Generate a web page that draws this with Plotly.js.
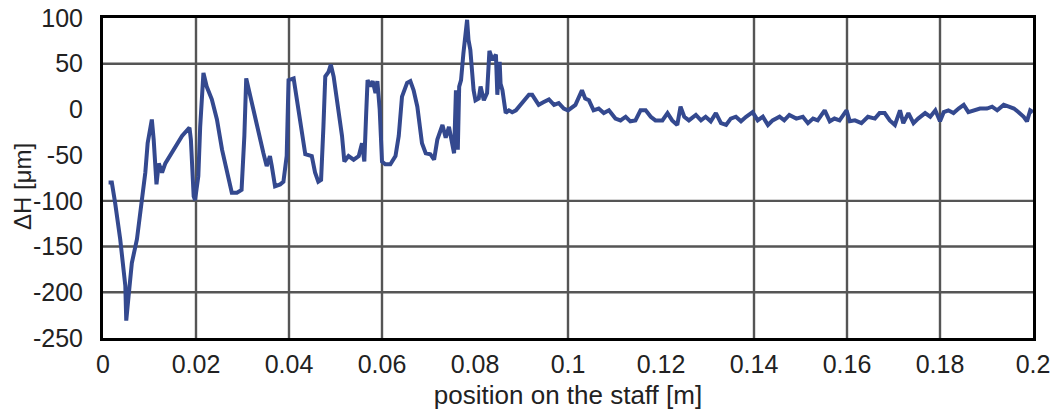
<!DOCTYPE html>
<html>
<head>
<meta charset="utf-8">
<script src="https://cdn.plot.ly/plotly-3.0.1.min.js"></script>
<style>html,body{margin:0;padding:0;background:#fff;}#chart{width:1058px;height:410px;}</style>
</head>
<body>
<div id="chart"></div>
<script>
// position on the staff [m]
const positionM = [
0.0012,0.0019,0.0026,0.0037,0.0048,0.0050,0.0055,0.0062,0.0073,0.0084,0.0091,0.0096,0.0105,0.0109,0.0115,0.0120,0.0127,0.0134,0.0152,0.0170,0.0186,0.0189,0.0195,0.0198,0.0205,0.0209,0.0216,0.0223,0.0234,0.0245,0.0256,0.0266,0.0277,0.0288,0.0298,0.0304,0.0308,0.0317,0.0327,0.0338,0.0345,0.0352,0.0359,0.0363,0.0370,0.0381,0.0388,0.0395,0.0399,0.0410,0.0420,0.0427,0.0435,0.0449,0.0456,0.0463,0.0469,0.0474,0.0478,0.0485,0.0490,0.0496,0.0507,0.0514,0.0519,0.0528,0.0539,0.0550,0.0557,0.0562,0.0566,0.0569,0.0575,0.0580,0.0586,0.0590,0.0595,0.0600,0.0607,0.0618,0.0629,0.0636,0.0643,0.0654,0.0661,0.0668,0.0676,0.0686,0.0694,0.0704,0.0712,0.0719,0.0730,0.0737,0.0744,0.0752,0.0755,0.0759,0.0763,0.0766,0.0770,0.0775,0.0781,0.0783,0.0786,0.0790,0.0797,0.0801,0.0808,0.0812,0.0819,0.0826,0.0831,0.0838,0.0845,0.0848,0.0853,0.0855,0.0859,0.0866,0.0873,0.0880,0.0888,0.0895,0.0905,0.0916,0.0923,0.0930,0.0937,0.0948,0.0959,0.0970,0.0980,0.0991,0.1000,0.1016,0.1030,0.1037,0.1045,0.1055,0.1066,0.1077,0.1088,0.1102,0.1113,0.1124,0.1134,0.1145,0.1156,0.1167,0.1178,0.1188,0.1203,0.1214,0.1224,0.1235,0.1242,0.1250,0.1260,0.1275,0.1286,0.1296,0.1307,0.1318,0.1329,0.1340,0.1350,0.1361,0.1372,0.1383,0.1397,0.1408,0.1419,0.1430,0.1440,0.1455,0.1465,0.1476,0.1491,0.1505,0.1516,0.1527,0.1537,0.1552,0.1563,0.1573,0.1584,0.1599,0.1606,0.1617,0.1631,0.1645,0.1660,0.1670,0.1681,0.1692,0.1703,0.1714,0.1721,0.1732,0.1743,0.1753,0.1768,0.1779,0.1790,0.1800,0.1808,0.1818,0.1829,0.1840,0.1851,0.1861,0.1872,0.1886,0.1901,0.1912,0.1923,0.1937,0.1948,0.1959,0.1969,0.1980,0.1987,0.1994,0.2000
];
// ΔH [μm]
const deltaH = [
-80,-80,-102,-142,-193,-231,-204,-168,-142,-102,-69,-37,-11,-33,-82,-59,-69,-59,-44,-29,-20,-33,-95,-99,-73,-19,40,25,11,-11,-44,-66,-91,-91,-88,-29,34,14,-8,-37,-48,-62,-51,-62,-84,-82,-79,-51,32,34,0,-26,-49,-51,-69,-79,-77,-19,36,41,49,36,0,-29,-57,-51,-55,-51,-37,-57,-4,32,25,31,18,31,0,-57,-60,-60,-51,-29,14,29,31,21,3,-37,-48,-49,-55,-33,-17,-31,-19,-40,-48,21,-44,25,32,61,94,98,76,65,21,10,12,25,10,18,64,54,60,16,52,28,21,-4,-1,-3,-1,3,10,16,16,10,5,8,11,5,7,1,-1,5,21,12,10,-1,1,-4,-1,-10,-12,-8,-13,-12,-1,-1,-8,-12,-12,-4,-12,-17,3,-8,-12,-6,-12,-8,-13,-4,-15,-17,-10,-8,-13,-8,-3,-12,-8,-17,-12,-8,-12,-6,-10,-8,-15,-10,-12,-1,-13,-10,-12,-1,-13,-12,-15,-8,-10,-4,-4,-12,-17,-1,-15,-4,-15,-10,-4,-8,-1,-13,-3,-1,-4,1,5,-3,-1,1,1,3,-1,5,3,1,-3,-8,-13,-1,-3
];
const xTickVals = [0,0.02,0.04,0.06,0.08,0.1,0.12,0.14,0.16,0.18,0.2];
const xTickText = ["0","0.02","0.04","0.06","0.08","0.1","0.12","0.14","0.16","0.18","0.2"];
const yTickVals = [100,50,0,-50,-100,-150,-200,-250];
const yTickText = ["100","50","0","-50","-100","-150","-200","-250"];
const xSolidGrid = [0.02,0.04,0.06,0.1,0.14,0.16,0.18];
const ySolidGrid = [50,-100,-150,-200];
const xTitle = 'position on the staff [m]';
const yTitle = 'ΔH [μm]';

const gridShapes = [];
xSolidGrid.forEach(v => gridShapes.push({type:'line',xref:'x',yref:'paper',x0:v,x1:v,y0:0,y1:1,layer:'below',line:{color:'#555',width:2.4}}));
ySolidGrid.forEach(v => gridShapes.push({type:'line',xref:'paper',yref:'y',x0:0,x1:1,y0:v,y1:v,layer:'below',line:{color:'#555',width:2.4}}));

const font = {family:'"Liberation Sans", Arial, sans-serif', size:25, color:'#222'};

Plotly.newPlot('chart', [{
  x: positionM, y: deltaH, type:'scatter', mode:'lines',
  line:{color:'#34498f', width:4}, hoverinfo:'skip'
}], {
  width:1058, height:410,
  margin:{l:103, r:25, t:18, b:72},
  paper_bgcolor:'#fff', plot_bgcolor:'#fff',
  showlegend:false,
  font: font,
  shapes: gridShapes,
  annotations:[{text:yTitle, xref:'paper', yref:'paper', x:0, y:0.5, xanchor:'center', yanchor:'middle',
    xshift:-81, yshift:-9, textangle:-90, showarrow:false,
    font:{family:font.family, size:24, color:'#222'}}],
  xaxis:{range:[0,0.2], tickvals:xTickVals, ticktext:xTickText, showgrid:false, zeroline:false,
    showline:true, mirror:true, linecolor:'#000', linewidth:3, ticks:'', ticklabelstandoff:2,
    automargin:false,
    title:{text:xTitle, font:{family:font.family, size:26, color:'#222'}, standoff:10}},
  yaxis:{range:[-250,100], tickvals:yTickVals, ticktext:yTickText, showgrid:false, zeroline:false,
    showline:true, mirror:true, linecolor:'#000', linewidth:3, ticks:'', ticklabelstandoff:12,
    automargin:false}
}, {staticPlot:true});
</script>
</body>
</html>
